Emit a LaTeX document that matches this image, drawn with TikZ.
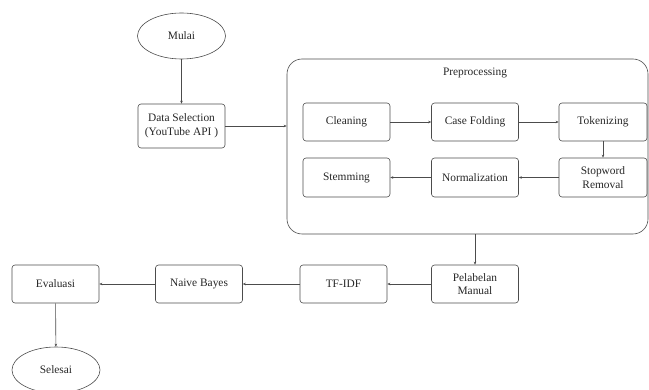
\documentclass[tikz,border=0pt]{standalone}
\usepackage{fontspec}
\setmainfont{Liberation Serif}
\usetikzlibrary{shapes.geometric,arrows.meta}
\begin{document}
\begin{tikzpicture}[x=1pt,y=-1pt,
  every node/.style={font=\fontsize{11.4}{13.5}\selectfont, text=black!85},
  box/.style={draw=black!70, line width=0.6pt, rounded corners=3pt, minimum width=87pt, minimum height=38pt, align=center, inner sep=1pt},
  oval/.style={draw=black!70, line width=0.6pt, ellipse, minimum width=88pt, minimum height=46pt, inner sep=1pt},
  conn/.style={draw=black!70, line width=0.6pt, -{Stealth[length=3pt,width=2.5pt]}}]
\useasboundingbox (0,0) rectangle (649,390);
\node[oval] (mulai) at (181.5,36) {Mulai};
\node[box, minimum height=44pt] (data) at (181.5,126) {Data Selection\\(YouTube API )};
\node[draw=black!70, line width=0.6pt, rounded corners=15pt, minimum width=361pt, minimum height=175pt, inner sep=0pt] (pre) at (467.5,146.5) {};
\node (prelabel) at (475,73) {Preprocessing};
\node[box] (clean) at (346.5,122) {Cleaning};
\node[box] (case) at (475,122) {Case Folding};
\node[box, minimum width=88pt] (tok) at (603,122) {Tokenizing};
\node[box, minimum height=39pt] (stem) at (346.5,177.5) {Stemming};
\node[box, minimum height=39pt] (norm) at (475,177.5) {Normalization};
\node[box, minimum width=88pt, minimum height=39pt] (stop) at (603,177.5) {Stopword\\Removal};
\node[box] (eval) at (55.5,284) {Evaluasi};
\node[box] (nb) at (199,284) {Naive Bayes};
\node[box] (tfidf) at (343.5,284) {TF-IDF};
\node[box] (label) at (475,284) {Pelabelan\\Manual};
\node[oval] (selesai) at (56,370) {Selesai};
\draw[conn] (mulai) -- (data);
\draw[conn] (data) -- (data -| pre.west);
\draw[conn] (clean) -- (case);
\draw[conn] (case) -- (tok);
\draw[conn] (tok) -- (stop);
\draw[conn] (stop) -- (norm);
\draw[conn] (norm) -- (stem);
\draw[conn] (label.north |- pre.south) -- (label);
\draw[conn] (label) -- (tfidf);
\draw[conn] (tfidf) -- (nb);
\draw[conn] (nb) -- (eval);
\draw[conn] (eval) -- (selesai);
\end{tikzpicture}
\end{document}
